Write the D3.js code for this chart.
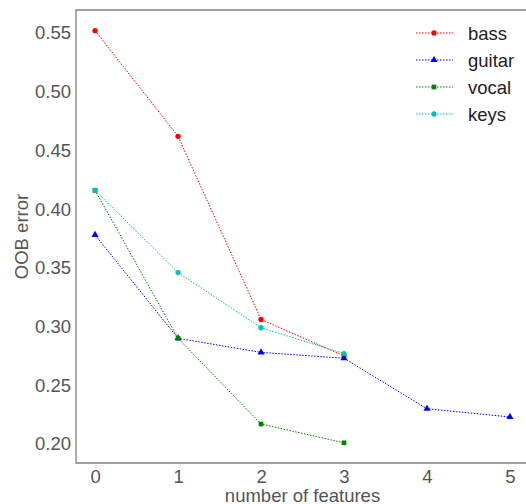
<!DOCTYPE html>
<html>
<head>
<meta charset="utf-8">
<script src="https://cdn.jsdelivr.net/npm/d3@7"></script>
<style>
  body { margin: 0; background: #fff; }
  svg { font-family: "Liberation Sans", Arial, sans-serif; }
</style>
</head>
<body>
<div id="chart"></div>
<script>
// Data
const features = [0, 1, 2, 3, 4, 5];
const bass = [0.552, 0.462, 0.306, 0.275];
const guitar = [0.378, 0.290, 0.278, 0.273, 0.230, 0.223];
const vocal = [0.416, 0.290, 0.217, 0.201];
const keys = [0.416, 0.346, 0.299, 0.277];
const yTicks = [0.20, 0.25, 0.30, 0.35, 0.40, 0.45, 0.50, 0.55];

// Hexagon marker (matplotlib "h"-like)
const symbolHexagon = {
    draw(context, size) {
        const r = Math.sqrt(size / (1.5 * Math.sqrt(3)));
        for (let k = 0; k < 6; k++) {
            const a = Math.PI / 3 * k - Math.PI / 2;
            const px = r * Math.cos(a), py = r * Math.sin(a);
            if (k === 0) context.moveTo(px, py); else context.lineTo(px, py);
        }
        context.closePath();
    }
};

const series = [
    { name: "bass", values: bass, color: "#ff0000", marker: d3.symbolCircle },
    { name: "guitar", values: guitar, color: "#0000ff", marker: d3.symbolTriangle },
    { name: "vocal", values: vocal, color: "#008000", marker: d3.symbolSquare },
    { name: "keys", values: keys, color: "#00bfbf", marker: symbolHexagon }
];

const width = 526;
const height = 504;
const plot = { left: 76, top: 10, right: 529, bottom: 463 };
const fontSize = 18.5;

const svg = d3.select("#chart")
    .append("svg")
    .attr("width", width)
    .attr("height", height);

// Scales
const x = d3.scaleLinear().domain([-0.23, 5.23]).range([plot.left, plot.right]);
const y = d3.scaleLinear().domain([0.1838, 0.5696]).range([plot.bottom, plot.top]);

// Frame (left, top, bottom)
svg.append("path")
    .attr("d", `M${plot.right},${plot.top}H${plot.left}V${plot.bottom}H${plot.right}`)
    .attr("fill", "none")
    .attr("stroke", "#808080")
    .attr("stroke-width", 1.3);

// Axes
const xAxis = svg.append("g")
    .attr("transform", `translate(0,${plot.bottom})`)
    .call(d3.axisBottom(x).tickValues(features).tickFormat(d3.format("d")).tickSize(0).tickPadding(7));
const yAxis = svg.append("g")
    .attr("transform", `translate(${plot.left},0)`)
    .call(d3.axisLeft(y).tickValues(yTicks).tickFormat(d3.format(".2f")).tickSize(0).tickPadding(5));

[xAxis, yAxis].forEach(a => {
    a.select(".domain").remove();
    a.selectAll("text")
        .attr("font-size", fontSize)
        .attr("fill", "#555555")
        .attr("font-family", "Liberation Sans, Arial, sans-serif");
});

// Axis labels
svg.append("text")
    .attr("x", (plot.left + plot.right) / 2)
    .attr("y", 502)
    .attr("text-anchor", "middle")
    .attr("font-size", fontSize)
    .attr("fill", "#555555")
    .text("number of features");

svg.append("text")
    .attr("transform", `translate(28,${(plot.top + plot.bottom) / 2}) rotate(-90)`)
    .attr("text-anchor", "middle")
    .attr("font-size", fontSize)
    .attr("fill", "#555555")
    .text("OOB error");

// Lines and markers
const line = d3.line()
    .x((d, i) => x(features[i]))
    .y(d => y(d));

series.forEach(s => {
    svg.append("path")
        .datum(s.values)
        .attr("d", line)
        .attr("fill", "none")
        .attr("stroke", s.color)
        .attr("stroke-width", 1)
        .attr("stroke-dasharray", "1.5,1.5");

    svg.selectAll(null)
        .data(s.values)
        .enter()
        .append("path")
        .attr("d", d3.symbol().type(s.marker).size(22))
        .attr("transform", (d, i) => `translate(${x(features[i])},${y(d)})`)
        .attr("fill", s.color);
});

// Legend
const legend = svg.append("g").attr("transform", "translate(416,33)");
series.forEach((s, i) => {
    const g = legend.append("g").attr("transform", `translate(0,${i * 27})`);
    g.append("line")
        .attr("x1", 0).attr("x2", 37)
        .attr("stroke", s.color)
        .attr("stroke-width", 1)
        .attr("stroke-dasharray", "1.5,1.5");
    g.append("path")
        .attr("d", d3.symbol().type(s.marker).size(22))
        .attr("transform", "translate(18,0)")
        .attr("fill", s.color);
    g.append("text")
        .attr("x", 52)
        .attr("y", 6.5)
        .attr("font-size", fontSize)
        .attr("fill", "#222222")
        .text(s.name);
});
</script>
</body>
</html>
